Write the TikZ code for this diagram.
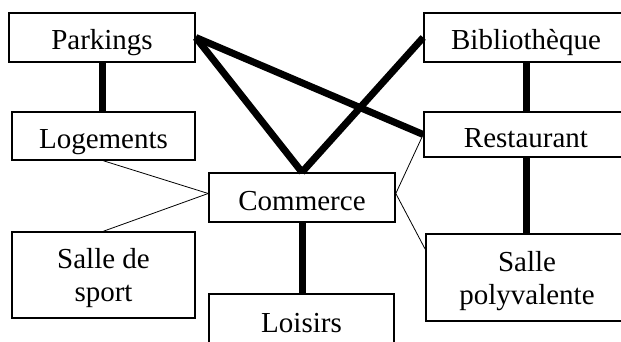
\documentclass[tikz,border=0pt]{standalone}
\usepackage{fontspec}
\setmainfont{Liberation Serif}
\usepackage{tikz}
\usetikzlibrary{calc}

\begin{document}
\begin{tikzpicture}[x=1pt, y=-1pt, font=\fontsize{29}{33}\selectfont,
  box/.style={rectangle, draw, line width=1.6pt, fill=white, align=center, inner sep=0pt},
  ligne/.style={box, text height=30pt, text depth=5pt},
  double/.style={box, text depth=0pt},
  fort/.style={line width=7pt},
  fin/.style={line width=0.8pt}]
  \useasboundingbox (0,0) rectangle (621,342);
  \clip (0,0) rectangle (621,342);
  % boites
  \node[ligne, minimum width=186pt, minimum height=49pt] (park) at (102,37.5) {Parkings};
  \node[ligne, minimum width=183pt, minimum height=48pt] (loge) at (103.5,136) {Logements};
  \node[ligne, minimum width=204pt, minimum height=49pt] (biblio) at (526,37.5) {Biblioth\`eque};
  \node[ligne, minimum width=204pt, minimum height=45pt] (resto) at (526,134.5) {Restaurant};
  \node[ligne, minimum width=186pt, minimum height=49pt] (comm) at (302,197.5) {Commerce};
  \node[double, minimum width=183pt, minimum height=86pt] (sport) at (103.5,275) {Salle de\\sport};
  \node[double, minimum width=202pt, minimum height=87pt] (poly) at (527,277.5) {Salle\\polyvalente};
  \node[ligne, minimum width=185pt, minimum height=51pt] (loisirs) at (301.5,319.5) {Loisirs};
  % liens
  \draw[fort] (park.south) -- (park.south |- loge.north);
  \draw[fort] (park.east) -- (resto.west);
  \draw[fort] (park.east) -- (comm.north);
  \draw[fort] (biblio.west) -- (comm.north);
  \draw[fort] (biblio.south) -- (resto.north);
  \draw[fort] (resto.south) -- (resto.south |- poly.north);
  \draw[fort] (comm.south) -- (comm.south |- loisirs.north);
  \draw[fin] (loge.south) -- ([yshift=4pt]comm.west);
  \draw[fin] (sport.north) -- ([yshift=4pt]comm.west);
  \draw[fin] ([yshift=4pt]comm.east) -- (resto.west);
  \draw[fin] ([yshift=4pt]comm.east) -- ([yshift=-16pt]poly.north west);
\end{tikzpicture}
\end{document}
